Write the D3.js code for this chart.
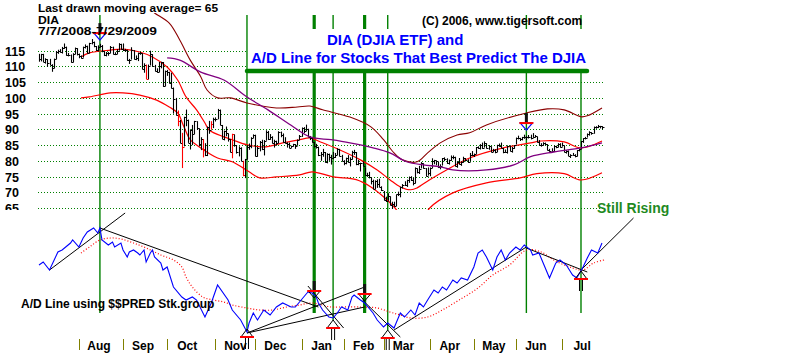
<!DOCTYPE html>
<html><head><meta charset="utf-8">
<script src="https://cdn.jsdelivr.net/npm/d3@7"></script>
<style>body{margin:0;background:#fff}svg{display:block}text{font-family:Arial,"Liberation Sans",sans-serif}</style>
</head><body><svg id="c" width="800" height="355"></svg>
<script>
// ---- daily DIA bars, 7/7/2008 - 7/29/2009 (trading-day index 0..268)
const close=[112.3,113.8,111.5,112.3,111.0,110.6,109.6,112.4,114.5,115.0,114.7,116.0,116.3,113.5,113.7,111.3,114.0,115.8,113.8,
113.3,112.8,116.2,116.6,114.3,117.3,117.8,116.4,115.3,116.2,116.6,114.8,113.5,114.2,114.3,116.3,113.9,114.1,115.0,117.2,115.4,
115.2,115.3,111.9,112.2,115.1,112.3,112.7,114.3,114.2,109.2,110.6,106.1,110.2,113.9,110.2,108.5,108.3,110.2,111.4,103.7,108.5,
108.3,104.8,103.3,99.6,94.5,92.6,85.8,84.5,93.9,93.1,85.8,89.8,88.5,92.7,90.3,85.2,86.9,83.8,81.8,90.7,89.9,91.8,93.3,
93.2,96.3,91.4,87.0,89.4,88.7,86.9,82.8,88.4,85.0,82.7,84.2,80.0,75.5,80.5,84.4,84.8,87.3,88.3,
81.5,84.2,85.9,83.8,86.4,89.3,86.9,87.6,85.7,86.3,85.6,89.2,88.2,86.0,85.8,85.2,84.2,84.7,85.2,84.8,86.7,87.8,
90.3,89.5,90.2,87.7,87.4,86.0,84.7,84.5,82.0,82.1,82.8,79.5,82.3,81.2,80.8,81.2,81.8,83.8,81.5,80.0,
79.4,80.8,79.6,80.6,82.8,82.7,78.9,79.4,79.3,78.5,75.5,75.6,74.7,73.7,71.1,73.5,72.7,71.8,70.6,
67.6,67.3,68.8,65.9,66.3,65.5,69.3,69.3,71.7,72.2,72.2,74.0,74.9,74.0,72.8,77.8,76.6,77.5,79.2,77.8,75.2,76.1,
77.6,79.8,80.2,79.8,77.9,78.4,80.8,80.6,79.2,80.3,81.3,81.3,78.4,79.7,78.9,79.6,80.8,80.3,79.7,81.9,81.7,
82.1,84.3,84.1,85.1,84.1,85.8,84.2,84.7,82.9,83.3,82.7,85.0,84.8,84.2,82.9,82.8,84.7,83.0,84.0,85.0,
87.2,87.4,86.8,87.5,87.6,87.6,87.6,87.4,87.7,88.0,86.1,85.0,85.0,85.6,85.4,83.4,83.2,83.0,84.7,84.4,85.3,84.5,
85.0,82.8,83.2,81.6,81.8,81.8,81.5,83.3,83.6,86.2,87.1,87.4,88.5,89.2,88.8,90.7,90.9,91.1,91.0,90.7];
const high=[114.0,114.0,114.0,112.6,112.3,112.4,110.7,112.5,114.9,115.3,115.5,116.2,117.3,116.3,114.3,113.8,114.2,116.0,115.8,
114.1,113.5,116.3,117.0,116.6,117.5,118.7,117.9,116.5,116.7,117.2,116.8,114.8,114.6,114.6,116.5,116.3,114.5,115.5,117.4,117.2,
117.3,115.6,115.3,112.4,116.1,115.2,113.5,114.4,114.6,114.2,111.0,110.6,110.6,115.0,113.9,110.5,109.4,111.4,111.5,111.4,108.7,
108.9,108.3,108.0,103.3,100.0,96.0,93.0,88.9,94.0,96.3,93.1,90.0,91.4,92.7,92.6,90.3,87.5,86.9,85.6,90.9,92.7,92.6,93.7,
93.8,96.5,96.3,91.4,89.6,90.9,88.7,86.9,88.6,88.4,85.0,84.6,84.3,80.0,80.6,85.0,85.5,87.5,88.4,
88.3,84.4,86.3,86.7,86.6,89.7,89.5,88.5,87.8,86.7,86.4,89.4,89.3,88.7,87.5,85.9,85.8,84.8,85.4,85.3,86.8,88.2,
90.6,90.7,91.5,90.2,87.9,87.6,86.0,85.4,84.5,82.8,83.8,82.8,82.4,82.3,81.9,82.8,82.5,84.0,83.8,81.9,
80.2,81.0,81.8,81.1,83.2,83.5,82.8,80.3,79.4,79.8,77.9,76.2,76.5,74.6,74.0,73.8,74.1,74.3,71.9,
70.4,68.6,69.7,68.7,67.0,67.0,69.3,70.2,71.8,72.6,73.5,74.0,75.0,75.1,74.6,77.9,77.6,78.4,79.6,79.2,77.7,77.9,
77.9,80.8,80.3,80.1,79.7,78.9,80.9,81.1,80.8,80.4,81.7,81.7,81.3,79.9,80.9,79.8,81.3,80.9,80.5,82.5,83.1,
82.3,84.4,84.6,85.3,85.8,86.2,85.6,85.0,84.6,83.8,83.7,85.1,85.5,85.8,84.1,83.6,84.9,84.9,84.4,85.0,
87.4,88.0,87.3,87.6,88.3,87.9,88.2,88.3,88.8,88.2,87.7,86.6,85.6,85.9,85.8,85.3,83.8,84.0,84.9,84.8,85.6,85.6,
85.8,84.9,83.4,83.3,82.1,82.5,82.1,83.4,83.8,86.3,87.2,87.6,88.7,89.4,89.1,90.9,91.0,91.4,91.1,91.0];
const low=[111.5,111.6,111.4,110.9,109.9,110.4,108.3,109.4,112.3,114.0,114.4,114.1,115.6,113.4,113.2,111.2,111.3,113.9,113.5,
112.6,112.5,112.8,115.7,114.1,114.2,117.0,116.1,114.9,114.8,116.0,114.5,113.3,113.2,113.4,114.2,113.8,113.6,113.9,115.0,115.3,
114.9,114.7,111.8,110.8,112.2,112.2,112.0,111.7,113.7,109.1,108.0,106.0,105.9,110.3,110.1,108.4,108.0,108.2,109.4,103.5,103.7,
107.0,104.6,103.0,95.0,94.4,91.0,85.6,77.7,84.6,91.0,85.7,83.6,85.0,88.5,89.8,84.6,83.4,81.1,81.5,81.5,88.6,89.9,90.4,
92.5,93.2,91.3,86.9,86.5,87.8,86.1,82.7,80.8,84.5,82.3,81.4,79.9,75.1,74.5,80.5,83.5,84.0,87.2,
81.4,81.3,83.0,83.4,81.7,86.4,86.6,86.7,85.5,84.2,84.8,85.6,87.5,85.8,85.5,84.2,84.0,84.1,84.5,83.8,84.8,86.6,
87.6,88.8,89.5,87.6,86.6,85.8,84.2,83.9,81.5,80.0,81.3,79.4,79.2,80.0,78.8,80.5,80.9,81.8,81.4,79.8,
78.6,78.9,79.4,78.2,80.4,81.9,78.6,78.6,76.6,78.3,75.3,74.9,74.4,72.5,71.0,71.0,71.4,71.6,70.4,
67.4,66.9,67.3,65.8,64.7,65.4,65.6,68.8,68.4,71.2,72.0,71.7,73.0,73.6,72.2,72.8,76.0,75.8,77.6,77.5,75.0,75.3,
75.1,77.7,78.9,78.6,77.7,77.3,78.5,79.9,79.0,78.8,80.0,80.5,78.2,77.8,78.8,78.4,79.4,79.8,79.3,79.8,81.5,
81.2,82.2,83.8,83.6,83.8,84.2,83.9,83.5,82.7,82.8,82.4,82.8,84.5,84.0,82.4,82.6,82.3,83.0,82.6,83.8,
85.2,86.8,86.3,86.5,87.0,86.6,87.1,86.8,87.3,87.4,85.8,84.9,84.5,84.8,85.0,83.3,82.9,82.9,82.8,84.0,84.3,84.2,
84.5,82.7,82.3,81.5,80.9,81.6,81.1,81.4,83.0,83.7,85.7,86.8,87.4,88.0,88.3,88.6,90.2,90.4,90.3,90.0];
const redBars=[51,66,68,78,82,92,97];

// ---- bands & averages: [trading-day index, price]
const midBand=[[20,113.0],[24,114.3],[34,115.2],[40,115.5],[48,114.6],[54,113.0],[61,109.8],[66,105.7],[70,100.3],[75,96.2],[79,92.0],[81,89.8],[88,87.6],[92,86.7],[99,85.1],[107,84.4],[116,85.7],[124,86.7],[129,87.3],[134,86.0],[143,83.5],[153,80.3],[161,77.1],[167,74.0],[172,71.7],[177,70.8],[180,71.4],[186,74.0],[194,77.1],[205,80.9],[221,84.1],[234,85.7],[239,86.3],[250,86.0],[258,84.1],[268,86.3]];
const lowBand=[[20,100.0],[24,100.3],[34,101.6],[40,101.6],[48,100.9],[56,99.3],[62,97.1],[66,95.2],[69,90.8],[72,86.7],[77,84.1],[85,80.9],[92,79.7],[100,76.5],[105,74.6],[113,74.9],[124,75.5],[130,76.5],[140,74.9],[151,74.0],[158,71.7],[164,68.6],[169,65.4],[174,61.2],[181,59.6],[186,65.0],[197,69.8],[213,73.0],[229,74.6],[237,75.9],[250,75.9],[258,73.9],[268,76.2]];
const upBand=[[50,129.5],[55,127.0],[62,123.8],[67,118.4],[72,112.0],[77,106.7],[80,102.5],[85,100.0],[91,100.0],[99,98.4],[113,96.8],[123,97.1],[129,97.4],[135,96.2],[148,93.9],[158,90.8],[164,86.7],[169,82.5],[173,80.3],[180,79.7],[185,82.5],[191,85.7],[199,88.2],[205,88.9],[213,91.4],[232,95.2],[242,96.5],[250,96.2],[258,94.0],[261,94.3],[268,96.8]];
const ma65=[[61,112.7],[67,112.0],[77,108.2],[88,105.7],[99,100.3],[109,96.2],[120,91.3],[129,87.6],[139,86.7],[148,85.7],[159,84.1],[167,82.5],[175,79.7],[183,78.7],[191,78.1],[197,77.1],[213,77.1],[226,78.7],[234,81.3],[245,82.8],[258,84.1],[268,85.7]];

// ---- A/D line (arbitrary units): [index, value]
const adLine=[[0,75],[2,78],[5,70],[9,88],[11,90],[15,97],[16,100],[19,93],[21,102],[23,108],[26,112],[28,107],[29,112],[30,100],[33,95],[35,98],[36,93],[39,97],[40,90],[42,83],[43,88],[45,90],[47,87],[48,85],[50,90],[51,78],[53,87],[54,90],[55,83],[58,77],[59,70],[61,73],[64,53],[68,43],[70,40],[73,43],[75,40],[79,23],[82,37],[85,55],[90,40],[92,30],[96,20],[99,8],[100,17],[102,27],[104,20],[107,30],[110,25],[113,33],[116,37],[120,33],[122,33],[124,38],[128,48],[130,47],[132,43],[133,37],[135,30],[138,23],[140,22],[142,27],[144,33],[147,30],[149,43],[150,45],[153,40],[155,37],[159,27],[161,20],[164,13],[166,17],[169,12],[170,17],[172,27],[174,23],[177,30],[179,25],[181,37],[183,33],[185,40],[188,50],[190,47],[192,53],[194,50],[197,60],[199,57],[201,62],[204,60],[207,73],[209,87],[211,90],[213,83],[216,70],[218,83],[220,90],[222,80],[224,87],[227,93],[229,90],[231,95],[234,90],[235,85],[238,87],[240,77],[243,62],[246,77],[248,80],[251,75],[254,65],[256,62],[259,73],[261,82],[263,90],[266,87],[268,97]];
const adMA=[[20,87],[24,93],[29,100],[34,102],[39,101],[45,97],[51,92],[58,85],[64,80],[68,73],[70,63],[73,53],[78,43],[83,40],[88,38],[92,35],[99,32],[105,30],[111,30],[118,33],[124,35],[130,37],[139,33],[143,33],[153,33],[161,32],[167,28],[172,25],[177,22],[185,23],[192,30],[200,40],[209,52],[216,65],[224,75],[232,90],[239,88],[245,80],[254,72],[259,70],[264,77],[269,80]];
const trendLines=[[5,70,41,127],[29,112,133,33],[99,7,155,53],[99,7,155,33],[128,54,145,12],[154,40,172,3],[169,10,232,93],[232,92,261,68],[258,70,283,122]];

// ---- signals
const signalIdx=[29,99,131,140,155,166,232,258];
const thickSignals=[131,155];
const priceSellIdx=[29,232], priceSellVal=[120.6,92.0];
const adBuyIdx=[99,140,166,258], adBuyVal=[3,12,2,61];
const adSellIdx=[131,155], adSellVal=[49,46];

// ---- axes labels
const yTicks=[115,110,105,100,95,90,85,80,75,70,65];
const months=["Aug","Sep","Oct","Nov","Dec","Jan","Feb","Mar","Apr","May","Jun","Jul"];
const monthStart=[19,40,61,84,103,125,145,164,186,207,227,249];
const headerLines=["Last drawn moving average= 65","DIA","7/7/2008-7/29/2009"];

const svg=d3.select("#c");
const x=d3.scaleLinear().domain([0,268]).range([39,602]);
const yP=d3.scaleLinear().domain([65,115]).range([208,50.7]);
const yA=d3.scaleLinear().domain([0,120]).range([340,220]);
const defs=svg.append("defs");
defs.append("clipPath").attr("id","topclip").append("rect").attr("x",30).attr("y",13).attr("width",590).attr("height",197);
defs.append("clipPath").attr("id","labclip").append("rect").attr("x",0).attr("y",0).attr("width",40).attr("height",210);
svg.append("rect").attr("width",800).attr("height",355).attr("fill","#fff");

// gridlines
svg.append("g").selectAll("line").data(yTicks).join("line")
  .attr("x1",38).attr("x2",603).attr("y1",d=>Math.round(yP(d))+0.5).attr("y2",d=>Math.round(yP(d))+0.5)
  .attr("stroke","#008000").attr("stroke-dasharray","1,2");
svg.append("g").attr("clip-path","url(#labclip)").selectAll("text").data(yTicks).join("text")
  .attr("x",5).attr("y",d=>yP(d)+5).attr("font-size","12.5px").attr("font-weight","bold").text(d=>d);

// vertical signal lines
const buyEnd={};adBuyIdx.forEach((d,k)=>{if(k<3)buyEnd[d]=yA(adBuyVal[k])-8;});
svg.append("g").selectAll("line").data(signalIdx).join("line")
  .attr("x1",d=>x(d)).attr("x2",d=>x(d)).attr("y1",15).attr("y2",d=>buyEnd[d]||313)
  .attr("stroke","#008000").attr("stroke-width",d=>thickSignals.includes(d)?3.2:1.4);

// bands
const topG=svg.append("g").attr("clip-path","url(#topclip)");
const lp=d3.line().x(d=>x(d[0])).y(d=>yP(d[1])).curve(d3.curveCatmullRom);
topG.append("path").attr("d",lp(upBand)).attr("fill","none").attr("stroke","#8b0000").attr("stroke-width",1.1);
topG.append("path").attr("d",lp(lowBand)).attr("fill","none").attr("stroke","#ff0000").attr("stroke-width",1.2);
topG.append("path").attr("d",lp(midBand)).attr("fill","none").attr("stroke","#ff0000").attr("stroke-width",1.2);
// price bars
const bars=topG.append("g");
close.forEach((c,i)=>{
  const xi=Math.round(x(i))+0.5, col=redBars.includes(i)?"#ff0000":"#000";
  bars.append("line").attr("x1",xi).attr("x2",xi).attr("y1",yP(high[i])).attr("y2",yP(low[i])).attr("stroke",col).attr("stroke-width",1.1);
  bars.append("line").attr("x1",xi).attr("x2",xi+2).attr("y1",Math.round(yP(c))+0.5).attr("y2",Math.round(yP(c))+0.5).attr("stroke",col);
});
topG.append("path").attr("d",lp(ma65)).attr("fill","none").attr("stroke","#800080").attr("stroke-width",1.3);

// price sell markers
priceSellIdx.forEach((d,k)=>{
  const cx=x(d), cy=yP(priceSellVal[k]);
  svg.append("line").attr("x1",cx).attr("x2",cx).attr("y1",cy-10).attr("y2",cy).attr("stroke","#111").attr("stroke-width",3);
  svg.append("path").attr("d",`M${cx-6},${cy}L${cx+6},${cy}L${cx},${cy+7}Z`).attr("fill","none").attr("stroke","#0000ff").attr("stroke-width",1.2);
  svg.append("line").attr("x1",cx-7).attr("x2",cx+7).attr("y1",cy).attr("y2",cy).attr("stroke","#ff0000").attr("stroke-width",2);
});

// title block
svg.append("rect").attr("x",248).attr("y",29).attr("width",356).attr("height",40).attr("fill","#fff");
svg.append("text").attr("x",327).attr("y",45).attr("font-size","15px").attr("font-weight","bold").attr("fill","#0000ff").text("DIA (DJIA ETF) and");
svg.append("text").attr("x",251).attr("y",63).attr("font-size","15px").attr("font-weight","bold").attr("fill","#0000ff").text("A/D Line for Stocks That Best Predict The DJIA");
svg.append("line").attr("x1",247).attr("x2",587).attr("y1",71).attr("y2",71).attr("stroke","#008000").attr("stroke-width",4.5).attr("stroke-linecap","round");
svg.append("text").attr("x",422).attr("y",25).attr("font-size","12px").attr("font-weight","bold").text("(C) 2006, www.tigersoft.com");
// header lines (tightly stacked as in the original)
const hdrW=[180,21,119], hdrY=[12,23.5,35];
svg.append("g").selectAll("text").data(headerLines).join("text")
  .attr("x",38).attr("y",(d,k)=>hdrY[k]).attr("font-size","10px").attr("font-weight","bold")
  .attr("textLength",(d,k)=>hdrW[k]).attr("lengthAdjust","spacingAndGlyphs").text(d=>d);

// A/D panel
const la=d3.line().x(d=>x(d[0])).y(d=>yA(d[1]));
svg.append("path").attr("d",d3.line().x(d=>x(d[0])).y(d=>yA(d[1])).curve(d3.curveCatmullRom)(adMA)).attr("fill","none").attr("stroke","#ff0000").attr("stroke-width",1.2).attr("stroke-dasharray","1,2");
svg.append("g").selectAll("line").data(trendLines).join("line")
  .attr("x1",d=>x(d[0])).attr("y1",d=>yA(d[1])).attr("x2",d=>x(d[2])).attr("y2",d=>yA(d[3])).attr("stroke","#000").attr("stroke-width",1);
svg.append("path").attr("d",la(adLine)).attr("fill","none").attr("stroke","#0000ff").attr("stroke-width",1.1);
svg.append("text").attr("x",21).attr("y",308).attr("font-size","12px").attr("font-weight","bold").text("A/D Line using $$PRED Stk.group");

adSellIdx.forEach((d,k)=>{
  const cx=x(d), cy=yA(adSellVal[k]);
  svg.append("line").attr("x1",cx).attr("x2",cx).attr("y1",cy-10).attr("y2",cy).attr("stroke","#111").attr("stroke-width",3);
  svg.append("path").attr("d",`M${cx-6},${cy}L${cx+6},${cy}L${cx},${cy+7}Z`).attr("fill","none").attr("stroke","#000").attr("stroke-width",1);
  svg.append("line").attr("x1",cx-7).attr("x2",cx+7).attr("y1",cy).attr("y2",cy).attr("stroke","#ff0000").attr("stroke-width",2);
});
adBuyIdx.forEach((d,k)=>{
  const cx=x(d), cy=yA(adBuyVal[k]);
  svg.append("path").attr("d",`M${cx-6},${cy}L${cx+6},${cy}L${cx},${cy-8}Z`).attr("fill","none").attr("stroke","#000").attr("stroke-width",1);
  [-1.5,1.5].forEach(o=>svg.append("line").attr("x1",cx+o).attr("x2",cx+o).attr("y1",cy).attr("y2",cy+12).attr("stroke","#000").attr("stroke-width",1));
  svg.append("line").attr("x1",cx-7).attr("x2",cx+7).attr("y1",cy).attr("y2",cy).attr("stroke","#ff0000").attr("stroke-width",2);
});
svg.append("text").attr("x",597).attr("y",213).attr("font-size","14px").attr("font-weight","bold").attr("fill","#1f8a1f").text("Still Rising");

// month axis
const mAxis=svg.append("g");
mAxis.selectAll("line").data(monthStart).join("line")
  .attr("x1",d=>Math.round(x(d))+0.5).attr("x2",d=>Math.round(x(d))+0.5).attr("y1",339).attr("y2",350).attr("stroke","#808000");
mAxis.selectAll("text").data(months).join("text")
  .attr("x",(d,k)=>x(monthStart[k])+20).attr("y",350).attr("text-anchor","middle").attr("font-size","12px").attr("font-weight","bold").text(d=>d);
</script></body></html>
